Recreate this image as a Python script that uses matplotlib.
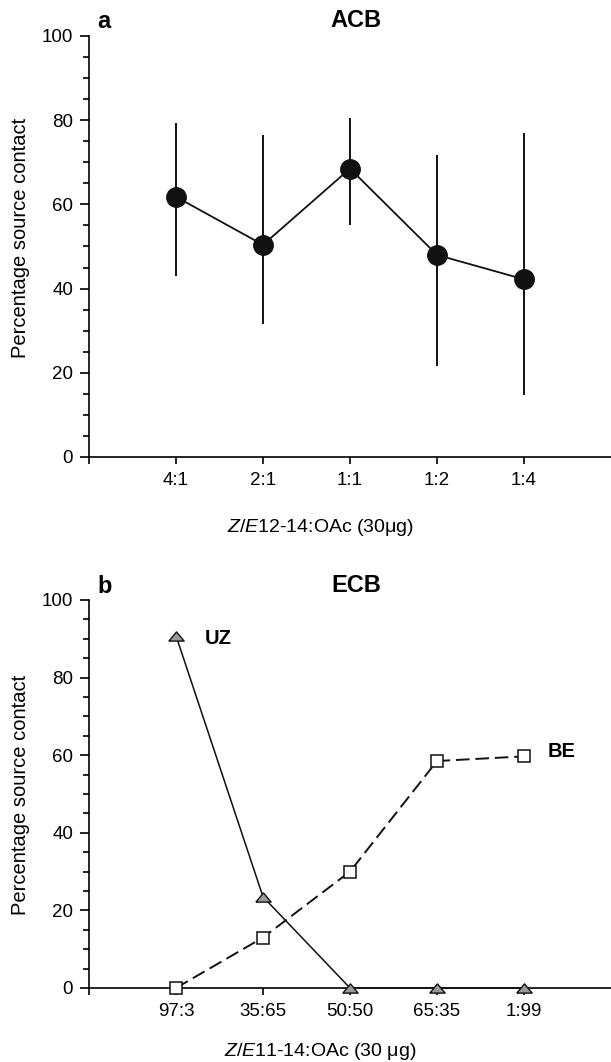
import numpy as np
import matplotlib.pyplot as plt
from matplotlib.ticker import MultipleLocator

# data
acb_labels = ["4:1", "2:1", "1:1", "1:2", "1:4"]
acb_mean = [61.8, 50.4, 68.5, 48.0, 42.2]
acb_upper = [79.3, 76.5, 80.5, 71.7, 77.0]
acb_lower = [43.0, 31.6, 55.0, 21.6, 14.8]

ecb_labels = ["97:3", "35:65", "50:50", "65:35", "1:99"]
uz = [90.8, 23.5, 0, 0, 0]
be = [0, 13.0, 30.0, 58.5, 59.7]

plt.rcParams['font.family'] = ['Liberation Sans', 'DejaVu Sans']
plt.rcParams['mathtext.fontset'] = 'custom'
plt.rcParams['mathtext.rm'] = 'Liberation Sans'
plt.rcParams['mathtext.it'] = 'Liberation Sans:italic'

W, H = 611, 1062
fig = plt.figure(figsize=(W / 100, H / 100), dpi=100)

# flat triangle like the original
tri = [(-1.0, -0.6), (1.0, -0.6), (0.0, 0.6), (-1.0, -0.6)]


def setup(ax, labels):
    ax.set_xlim(0, 6)
    ax.set_ylim(0, 100)
    ax.spines['top'].set_visible(False)
    ax.spines['right'].set_visible(False)
    ax.spines['left'].set_linewidth(1.2)
    ax.spines['bottom'].set_linewidth(1.2)
    ax.set_xticks(np.arange(0, 6))
    ax.set_xticklabels([""] + labels, fontsize=13.5)
    ax.yaxis.set_major_locator(MultipleLocator(20))
    ax.yaxis.set_minor_locator(MultipleLocator(5))
    ax.tick_params(axis='y', which='major', length=6.5, width=1.2, labelsize=13.5, pad=5)
    ax.tick_params(axis='y', which='minor', length=4, width=1.2)
    ax.tick_params(axis='x', length=5, width=1.2, pad=6)


# panel a
ax1 = fig.add_axes([89 / W, 1 - 457 / H, 1 - 89 / W, 421 / H])
setup(ax1, acb_labels)
x = np.arange(1, 6)
yerr = [np.array(acb_mean) - np.array(acb_lower), np.array(acb_upper) - np.array(acb_mean)]
ax1.errorbar(x, acb_mean, yerr=yerr, fmt='none', ecolor='#111111', elinewidth=1.4, capsize=0)
ax1.plot(x, acb_mean, '-', color='#111111', lw=1.3, marker='o', markersize=14,
         markerfacecolor='#111111', markeredgecolor='#111111')

fig.text(97 / W, 1 - 28 / H, "a", fontsize=17, fontweight='bold', va='baseline')
fig.text(356 / W, 1 - 27 / H, "ACB", fontsize=17, fontweight='bold', ha='center', va='baseline')
fig.text(21 / W, 1 - 238 / H, "Percentage source contact", fontsize=14.5, rotation=90,
         ha='center', va='center')
fig.text(320 / W, 1 - 527 / H, r"$\it{Z/E}$12-14:OAc (30μg)", fontsize=14,
         ha='center', va='center')

# panel b
ax2 = fig.add_axes([89 / W, 1 - 988 / H, 1 - 89 / W, 388 / H])
setup(ax2, ecb_labels)
ax2.plot(x, uz, '-', color='#111111', lw=1.1, marker=tri, markersize=11,
         markerfacecolor='#9a9a9a', markeredgecolor='#111111', markeredgewidth=1.0,
         clip_on=False, zorder=3)
ax2.plot(x, be, color='#111111', lw=1.4, dashes=(7, 3), marker='s', markersize=8,
         markerfacecolor='white', markeredgecolor='#111111', markeredgewidth=1.1,
         clip_on=False, zorder=3)
ax2.text(1.33, 90, "UZ", fontsize=14.5, fontweight='bold', va='center')
ax2.text(5.27, 61, "BE", fontsize=14.5, fontweight='bold', va='center')

fig.text(97 / W, 1 - 593 / H, "b", fontsize=17, fontweight='bold', va='baseline')
fig.text(356 / W, 1 - 592 / H, "ECB", fontsize=17, fontweight='bold', ha='center', va='baseline')
fig.text(21 / W, 1 - 795 / H, "Percentage source contact", fontsize=14.5, rotation=90,
         ha='center', va='center')
fig.text(320 / W, 1 - 1051 / H, r"$\it{Z/E}$11-14:OAc (30 μg)", fontsize=14,
         ha='center', va='center')

fig.savefig("out.png", dpi=100)
